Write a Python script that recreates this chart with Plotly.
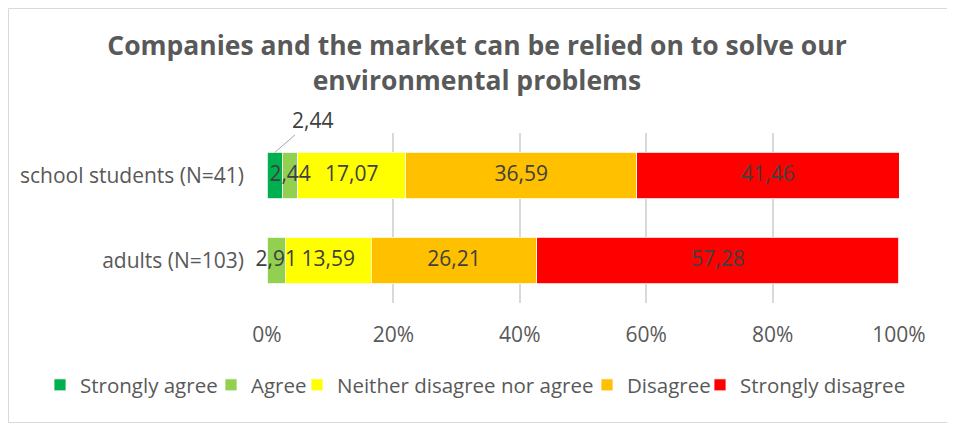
import plotly.graph_objects as go

# ---- data (percentages) ----
groups = ["school students (N=41)", "adults (N=103)"]
answers = ["Strongly agree", "Agree", "Neither disagree nor agree", "Disagree", "Strongly disagree"]
strongly_agree = [2.44, 0.0]
agree = [2.44, 2.91]
neither = [17.07, 13.59]
disagree = [36.59, 26.21]
strongly_disagree = [41.46, 57.28]
x_ticks = [0, 20, 40, 60, 80, 100]
x_tick_labels = ["0%", "20%", "40%", "60%", "80%", "100%"]

colors = ["#00B050", "#92D050", "#FFFF00", "#FFC000", "#FF0000"]
series = [strongly_agree, agree, neither, disagree, strongly_disagree]

FONT = "Open Sans"
OFF = 8  # the page body adds an 8px offset
W, H = 955 - OFF, 424 - OFF
M = dict(l=267 - OFF, r=56, t=133 - OFF, b=121, autoexpand=False)
pw = W - M["l"] - M["r"]
ph = H - M["t"] - M["b"]

# where each legend entry's text starts (page px), one legend per entry
legend_text_x = [80, 251, 337, 627, 740]
legend_ids = ["legend", "legend2", "legend3", "legend4", "legend5"]


def label(v):
    return f"{v:.2f}".replace(".", ",")


fig = go.Figure()
for name, vals, col, lid in zip(answers, series, colors, legend_ids):
    fig.add_trace(go.Bar(
        name=name, y=groups, x=vals, orientation="h",
        marker=dict(color=col, line=dict(color="white", width=0.8)),
        legend=lid, hoverinfo="skip",
    ))

# data labels drawn on top of all segments (so small ones can overflow)
lab_x, lab_y, lab_t = [], [], []
for gi, g in enumerate(groups):
    start = 0.0
    for si, vals in enumerate(series):
        v = vals[gi]
        if v > 0 and si != 0:
            lab_x.append(start + v / 2)
            lab_y.append(g)
            lab_t.append(label(v))
        start += v
fig.add_trace(go.Scatter(
    x=lab_x, y=lab_y, text=lab_t, mode="text", showlegend=False,
    cliponaxis=False,
    textfont=dict(family=FONT, size=21, color="#404040"),
    hoverinfo="skip",
))

# callout for the small "strongly agree" segment
fig.add_annotation(
    x=strongly_agree[0] / 2, y=groups[0], yshift=23,
    text=label(strongly_agree[0]), showarrow=True, arrowhead=0,
    arrowwidth=1, arrowcolor="#A6A6A6", ax=38, ay=-33,
    font=dict(family=FONT, size=21, color="#404040"),
)

# chart border like the Excel frame
fig.add_shape(
    type="rect", xref="paper", yref="paper",
    x0=(0.5 - M["l"]) / pw, x1=(944.5 - M["l"]) / pw,
    y0=-(M["b"] - 1.5) / ph, y1=(H - M["b"] - 0.5) / ph,
    line=dict(color="#D9D9D9", width=1),
)

legend_y = -(385 - OFF - (H - M["b"])) / ph
legends = {}
for lid, tx in zip(legend_ids, legend_text_x):
    legends[lid] = dict(
        orientation="h", x=(tx - 40 - OFF) / W, xanchor="left", xref="container",
        y=legend_y, yanchor="middle", yref="paper",
        font=dict(family=FONT, size=20.5, color="#595959"),
        itemwidth=30, bgcolor="rgba(0,0,0,0)",
    )

fig.update_layout(
    width=W, height=H, margin=M,
    barmode="stack", bargap=0.45,
    separators=",.",
    paper_bgcolor="white", plot_bgcolor="white",
    title=dict(
        text="<b>Companies and the market can be relied on to solve our<br>environmental problems</b>",
        x=(477 - OFF) / W, xref="container", xanchor="center", y=0.886, yanchor="top",
        font=dict(family=FONT, size=26.5, color="#595959"),
    ),
    xaxis=dict(
        range=[0, 100], tickvals=x_ticks, ticktext=x_tick_labels,
        showgrid=True, gridcolor="#D9D9D9", gridwidth=1.5,
        zeroline=False, showline=False, ticks="", automargin=False,
        ticklabelstandoff=17,
        tickfont=dict(family=FONT, size=21, color="#595959"),
    ),
    yaxis=dict(
        autorange="reversed", showgrid=False, zeroline=False, ticks="",
        automargin=False, ticklabelstandoff=22,
        tickfont=dict(family=FONT, size=21, color="#595959"),
    ),
    showlegend=True,
    **legends,
)

fig.write_html("out.html")
